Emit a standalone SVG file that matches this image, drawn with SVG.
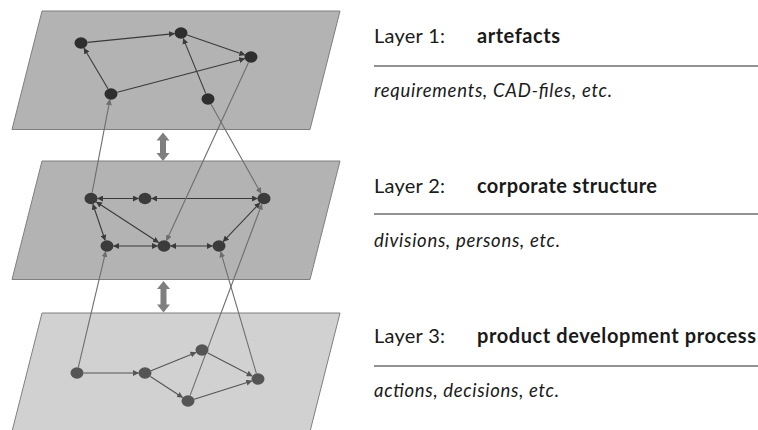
<svg xmlns="http://www.w3.org/2000/svg" width="758" height="430" viewBox="0 0 758 430">
<defs>
<marker id="ahd" markerUnits="userSpaceOnUse" markerWidth="6" markerHeight="6" refX="5.5" refY="3" orient="auto-start-reverse">
<path d="M0,0 L6,3 L0,6 z" fill="#3a3a3a"/>
</marker>
<marker id="ahg" markerUnits="userSpaceOnUse" markerWidth="6" markerHeight="6" refX="5.5" refY="3" orient="auto-start-reverse">
<path d="M0,0 L6,3 L0,6 z" fill="#6e6e6e"/>
</marker>
<marker id="ahl" markerUnits="userSpaceOnUse" markerWidth="6" markerHeight="6" refX="5.5" refY="3" orient="auto-start-reverse">
<path d="M0,0 L6,3 L0,6 z" fill="#555555"/>
</marker>
</defs>
<style>
.plane{stroke:#7f7f7f;stroke-width:1}
.p12{fill:#b3b3b3}
.p3{fill:#d1d1d1}
.n1{fill:#2e2e2e}
.n2{fill:#3b3b3b}
.n3{fill:#555555}
.e{fill:none;stroke:#3a3a3a;stroke-width:1.1;marker-end:url(#ahd)}
.bi{marker-start:url(#ahd)}
.e3{fill:none;stroke:#555555;stroke-width:1.1;marker-end:url(#ahl)}
.x{fill:none;stroke:#6e6e6e;stroke-width:1.1;marker-end:url(#ahg)}
.dbl{fill:#7f7f7f}
.lab{font-family:Lato,"Liberation Sans",sans-serif;font-size:20px;fill:#1a1a1a}
.b{font-weight:bold}
.it{font-family:Lato,"Liberation Sans",sans-serif;font-size:18.5px;font-style:italic;fill:#1a1a1a}
.rule{stroke:#262626;stroke-width:1.2}
</style>

<g id="layer1">
<polygon class="plane p12" points="42,11 340,11 310,129.5 12,129.5"/>
</g>
<g id="layer2">
<polygon class="plane p12" points="42,161 340,161 310,279.5 12,279.5"/>
</g>
<g id="layer3">
<polygon class="plane p3" points="42,313 340,313 310,431.5 12,431.5"/>
</g>

<g id="layer-arrows">
<polygon class="dbl" points="163,132.5 169.5,140.5 166,140.5 166,153 169.5,153 163,161 156.5,153 160,153 160,140.5 156.5,140.5"/>
<polygon class="dbl" points="163.5,281 170,289 166.5,289 166.5,304.5 170,304.5 163.5,312.5 157,304.5 160.5,304.5 160.5,289 157,289"/>
</g>

<g id="connectors">
<line class="e" x1="87.5" y1="42.4" x2="174.5" y2="33.6"/>
<line class="e" x1="187.1" y1="35.1" x2="244.9" y2="54.9"/>
<line class="e" x1="108" y1="88.8" x2="84" y2="48.2"/>
<line class="e" x1="117.3" y1="92.3" x2="244.7" y2="58.7"/>
<line class="e" x1="205.7" y1="93.4" x2="183.3" y2="38.6"/>
<line class="e bi" x1="97.5" y1="198.5" x2="138.5" y2="198.5"/>
<line class="e bi" x1="151.5" y1="198.5" x2="257.5" y2="198.5"/>
<line class="e bi" x1="92.9" y1="204.2" x2="105.1" y2="240.3"/>
<line class="e bi" x1="96.4" y1="202" x2="158.6" y2="242.5"/>
<line class="e bi" x1="113.5" y1="246" x2="157.5" y2="246"/>
<line class="e bi" x1="170.5" y1="246" x2="212.5" y2="246"/>
<line class="e bi" x1="223.1" y1="241.6" x2="259.9" y2="202.9"/>
<line class="e3" x1="83.5" y1="373" x2="138.5" y2="373"/>
<line class="e3" x1="151" y1="370.8" x2="196" y2="352.4"/>
<line class="e3" x1="150.4" y1="376.5" x2="182.6" y2="397.5"/>
<line class="e3" x1="207.8" y1="353" x2="252.2" y2="376"/>
<line class="e3" x1="194.2" y1="399.2" x2="251.8" y2="381"/>
<line class="x" x1="92.1" y1="192.9" x2="109.9" y2="99.6"/>
<line class="x" x1="211" y1="104.2" x2="261" y2="193.3"/>
<line class="x" x1="248.5" y1="62.4" x2="166.5" y2="240.6"/>
<line class="x" x1="78.3" y1="367.4" x2="105.7" y2="251.6"/>
<line class="x" x1="190.1" y1="395.4" x2="261.9" y2="204.1"/>
<line class="x" x1="256.3" y1="373.2" x2="220.7" y2="251.8"/>
</g>

<g id="nodes-layer1">
<ellipse id="n1a" class="n1" cx="81" cy="43" rx="6.5" ry="5.7"/>
<ellipse id="n1b" class="n1" cx="181" cy="33" rx="6.5" ry="5.7"/>
<ellipse id="n1c" class="n1" cx="251" cy="57" rx="6.5" ry="5.7"/>
<ellipse id="n1d" class="n1" cx="111" cy="94" rx="6.5" ry="5.7"/>
<ellipse id="n1e" class="n1" cx="208" cy="99" rx="6.5" ry="5.7"/>
</g>
<g id="nodes-layer2">
<ellipse id="n2p" class="n2" cx="91" cy="198.5" rx="6.5" ry="5.7"/>
<ellipse id="n2q" class="n2" cx="145" cy="198.5" rx="6.5" ry="5.7"/>
<ellipse id="n2r" class="n2" cx="264" cy="198.5" rx="6.5" ry="5.7"/>
<ellipse id="n2s" class="n2" cx="107" cy="246" rx="6.5" ry="5.7"/>
<ellipse id="n2t" class="n2" cx="164" cy="246" rx="6.5" ry="5.7"/>
<ellipse id="n2u" class="n2" cx="219" cy="246" rx="6.5" ry="5.7"/>
</g>
<g id="nodes-layer3">
<ellipse id="n3v" class="n3" cx="77" cy="373" rx="6.5" ry="5.7"/>
<ellipse id="n3w" class="n3" cx="145" cy="373" rx="6.5" ry="5.7"/>
<ellipse id="n3x" class="n3" cx="202" cy="350" rx="6.5" ry="5.7"/>
<ellipse id="n3y" class="n3" cx="188" cy="401" rx="6.5" ry="5.7"/>
<ellipse id="n3z" class="n3" cx="258" cy="379" rx="6.5" ry="5.7"/>
</g>

<g id="legend1">
<text class="lab" x="374" y="43" textLength="71">Layer 1:</text>
<text class="lab b" x="477" y="43" textLength="83">artefacts</text>
<line class="rule" x1="374" y1="66" x2="758" y2="66"/>
<text class="it" x="374" y="97" textLength="238">requirements, CAD-files, etc.</text>
</g>
<g id="legend2">
<text class="lab" x="374" y="193" textLength="71">Layer 2:</text>
<text class="lab b" x="477" y="193" textLength="180">corporate structure</text>
<line class="rule" x1="374" y1="214" x2="758" y2="214"/>
<text class="it" x="374" y="247" textLength="186">divisions, persons, etc.</text>
</g>
<g id="legend3">
<text class="lab" x="374" y="343" textLength="71">Layer 3:</text>
<text class="lab b" x="477" y="343" textLength="279">product development process</text>
<line class="rule" x1="374" y1="366" x2="758" y2="366"/>
<text class="it" x="374" y="397" textLength="185">actions, decisions, etc.</text>
</g>
</svg>
